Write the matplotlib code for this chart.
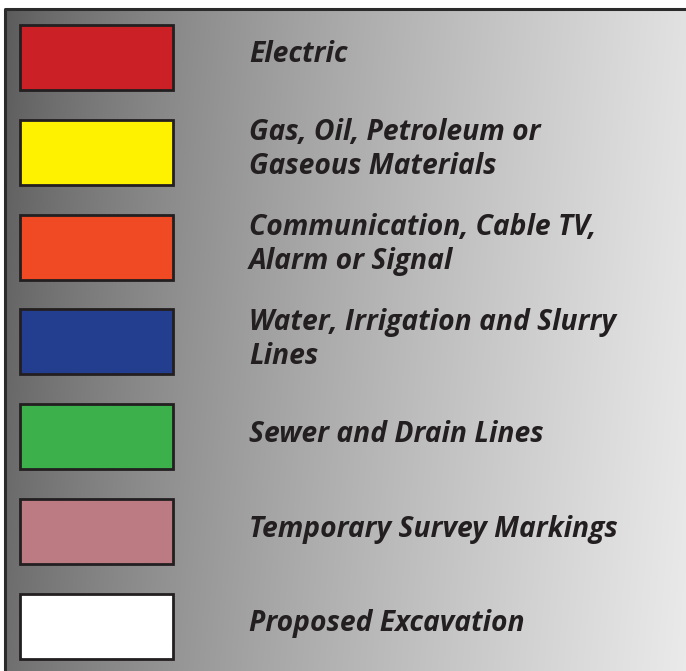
import numpy as np
import matplotlib.pyplot as plt
from matplotlib.patches import Rectangle

labels = ['Electric',
          'Gas, Oil, Petroleum or\nGaseous Materials',
          'Communication, Cable TV,\nAlarm or Signal',
          'Water, Irrigation and Slurry\nLines',
          'Sewer and Drain Lines',
          'Temporary Survey Markings',
          'Proposed Excavation']
colors = ['#cb2026', '#fff200', '#ef4a23', '#233d8f', '#3cb04a', '#bc7a82', '#ffffff']

W, H = 686, 671
fig = plt.figure(figsize=(W / 100, H / 100), dpi=100)
ax = fig.add_axes([0, 0, 1, 1])
ax.set_xlim(0, W)
ax.set_ylim(H, 0)
ax.axis('off')

# gradient background, dark at left going light at right
xx, yy = np.meshgrid(np.linspace(0, 1, 400), np.linspace(0, 1, 400))
t = np.clip(0.92 * xx + 0.08 * yy, 0, 1)
g = 0.35 + 0.57 * t ** 0.75
img = np.dstack([g, g, g])
ax.imshow(img, extent=[5, W + 2, H + 2, 9], aspect='auto', zorder=0)
ax.plot([5, 5, W + 2], [H + 2, 9, 9], color='#2b2b2b', lw=2.2, zorder=1)

step = 94.8
for i, (lab, c) in enumerate(zip(labels, colors)):
    y0 = 25 + i * step
    ax.add_patch(Rectangle((20, y0), 153, 65, facecolor=c, edgecolor='#231f20', lw=2, zorder=2))
    ax.text(249, y0 + 30, lab, fontsize=20.3, fontweight='bold', fontstyle='italic',
            family='Open Sans', color='#231f20', va='center', ha='left',
            linespacing=1.22, zorder=3)

fig.savefig('out.png', dpi=100)
